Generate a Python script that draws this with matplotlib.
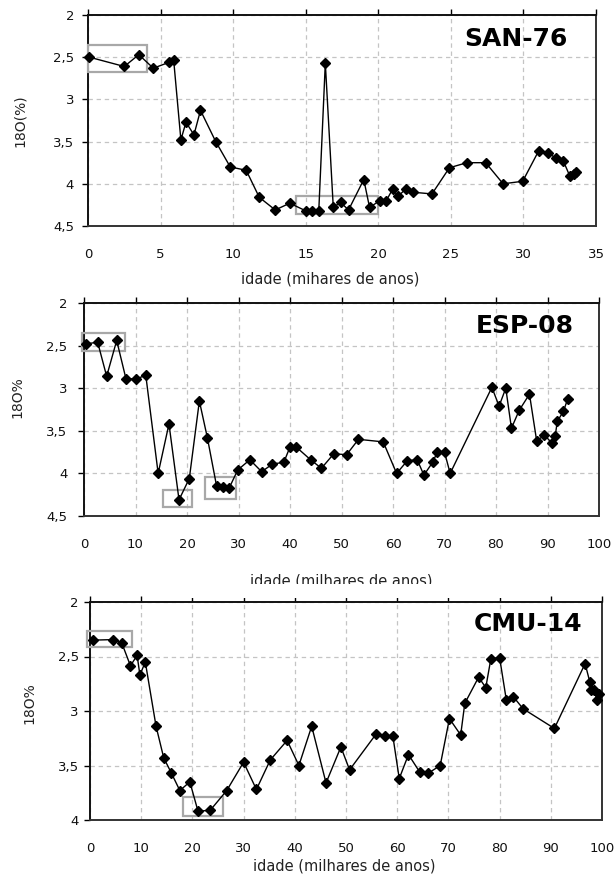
import matplotlib
matplotlib.use("Agg")
import matplotlib.pyplot as plt
from matplotlib.patches import Rectangle
from matplotlib.ticker import MultipleLocator, FuncFormatter

# ---------------- data ----------------
san_x = [0.1, 2.5, 3.5, 4.5, 5.6, 5.9, 6.4, 6.75, 7.3, 7.75, 8.8, 9.8, 10.9, 11.8,
         12.9, 13.9, 15.0, 15.45, 15.9, 16.35, 16.9, 17.4, 17.95, 19.0, 19.4, 20.1,
         20.55, 21.0, 21.35, 21.9, 22.4, 23.7, 24.9, 26.1, 27.4, 28.6, 29.95, 31.05,
         31.7, 32.25, 32.75, 33.2, 33.45, 33.65]
san_y = [2.50, 2.61, 2.47, 2.63, 2.56, 2.53, 3.48, 3.27, 3.42, 3.13, 3.50, 3.80, 3.84, 4.16,
         4.31, 4.23, 4.32, 4.32, 4.32, 2.57, 4.28, 4.22, 4.31, 3.95, 4.28, 4.20,
         4.20, 4.06, 4.15, 4.06, 4.10, 4.12, 3.81, 3.75, 3.75, 4.00, 3.97, 3.61,
         3.63, 3.70, 3.73, 3.91, 3.88, 3.86]
san_boxes = [(0.0, 4.05, 2.35, 2.67), (14.35, 19.95, 4.14, 4.36)]

esp_x = [0.4, 2.65, 4.4, 6.35, 8.15, 10.1, 12.0, 14.4, 16.5, 18.45, 20.45, 22.4, 23.95,
         25.75, 26.9, 28.2, 29.85, 32.2, 34.5, 36.6, 38.8, 40.0, 41.2, 44.0, 46.1, 48.5,
         51.0, 53.3, 58.1, 60.7, 62.8, 64.7, 66.0, 67.7, 68.6, 70.0, 71.1, 79.2, 80.6,
         81.9, 83.0, 84.5, 86.5, 87.9, 89.4, 90.8, 91.5, 91.9, 93.1, 93.9]
esp_y = [2.48, 2.46, 2.86, 2.44, 2.89, 2.89, 2.85, 4.00, 3.42, 4.31, 4.06, 3.15, 3.58,
         4.15, 4.16, 4.17, 3.96, 3.84, 3.98, 3.89, 3.87, 3.69, 3.69, 3.84, 3.94, 3.77,
         3.78, 3.60, 3.63, 4.00, 3.85, 3.84, 4.02, 3.87, 3.75, 3.75, 4.00, 2.99, 3.21,
         3.00, 3.47, 3.26, 3.07, 3.62, 3.55, 3.64, 3.56, 3.39, 3.27, 3.13]
esp_boxes = [(-0.3, 8.0, 2.35, 2.56), (15.3, 20.9, 4.19, 4.39), (23.5, 29.6, 4.04, 4.30)]

cmu_x = [0.5, 4.4, 6.2, 7.9, 9.2, 9.75, 10.8, 12.9, 14.4, 15.9, 17.55, 19.5, 21.1, 23.5,
         26.7, 30.0, 32.5, 35.2, 38.5, 40.8, 43.3, 46.1, 49.0, 50.7, 55.9, 57.65, 59.15,
         60.4, 62.2, 64.4, 66.1, 68.4, 70.2, 72.4, 73.2, 75.9, 77.3, 78.3, 80.0, 81.3,
         82.7, 84.6, 90.7, 96.7, 97.6, 97.9, 98.5, 99.0, 99.5]
cmu_y = [2.35, 2.345, 2.375, 2.585, 2.49, 2.67, 2.55, 3.14, 3.43, 3.57, 3.73, 3.65, 3.92,
         3.91, 3.73, 3.47, 3.72, 3.45, 3.27, 3.50, 3.14, 3.66, 3.33, 3.54, 3.21, 3.23,
         3.23, 3.62, 3.40, 3.56, 3.57, 3.50, 3.07, 3.22, 2.93, 2.69, 2.785, 2.52, 2.51,
         2.895, 2.87, 2.98, 3.16, 2.565, 2.73, 2.81, 2.81, 2.895, 2.84]
cmu_boxes = [(-0.5, 8.3, 2.27, 2.41), (18.2, 25.9, 3.79, 3.96)]

titles = ["SAN-76", "ESP-08", "CMU-14"]
ylabels = ["18O(%)", "18O%", "18O%"]
xlabels = ["idade (mihares de anos)", "idade (milhares de anos)", "idade (milhares de anos)"]

W, H = 616, 875
fig = plt.figure(figsize=(W / 100, H / 100), dpi=100)

def frac(left, right, top, bottom):
    return [left / W, 1 - bottom / H, (right - left) / W, (bottom - top) / H]

comma = FuncFormatter(lambda v, p: ("%g" % v).replace(".", ","))

panels = [
    dict(x=san_x, y=san_y, boxes=san_boxes, rect=frac(88, 596, 15, 226),
         xlim=(0, 35), xstep=5, ylim=(2, 4.5), title_pos=(0.843, 0.886),
         ylab_pos=(-0.12, 0.50), xlab_pos=(0.476, -0.215), ypad=6),
    dict(x=esp_x, y=esp_y, boxes=esp_boxes, rect=frac(84, 599, 303, 516),
         xlim=(0, 100), xstep=10, ylim=(2, 4.5), title_pos=(0.856, 0.892),
         ylab_pos=(-0.115, 0.56), xlab_pos=(0.50, -0.27), ypad=8),
    dict(x=cmu_x, y=cmu_y, boxes=cmu_boxes, rect=frac(90, 602, 602, 820),
         xlim=(0, 100), xstep=10, ylim=(2, 4.0), title_pos=(0.855, 0.899),
         ylab_pos=(-0.104, 0.537), xlab_pos=(0.496, -0.178), ypad=4),
]

for i, p in enumerate(panels):
    ax = fig.add_axes(p["rect"])
    ax.set_xlim(*p["xlim"])
    ax.set_ylim(p["ylim"][1], p["ylim"][0])
    ax.xaxis.set_major_locator(MultipleLocator(p["xstep"]))
    ax.yaxis.set_major_locator(MultipleLocator(0.5))
    ax.yaxis.set_major_formatter(comma)
    ax.grid(True, color="#c4c4c4", linestyle=(0, (3.5, 3)), linewidth=0.9)
    ax.set_axisbelow(True)
    ax.tick_params(axis="x", top=True, bottom=False, labeltop=False, labelbottom=True,
                   direction="out", length=4, width=1, pad=12, labelsize=9.5,
                   labelcolor="#111111")
    ax.tick_params(axis="y", left=True, direction="out", length=4, width=1,
                   pad=p["ypad"], labelsize=9.5, labelcolor="#111111")
    for s in ["left", "top"]:
        ax.spines[s].set_linewidth(1.4)
        ax.spines[s].set_color("#111111")
    for s in ["right", "bottom"]:
        ax.spines[s].set_linewidth(1.4)
        ax.spines[s].set_color("#333333")

    ax.plot(p["x"], p["y"], color="black", linewidth=1.0, marker="D",
            markersize=4.8, markerfacecolor="black", markeredgecolor="black",
            clip_on=False, zorder=4)
    for (x0, x1, y0, y1) in p["boxes"]:
        ax.add_patch(Rectangle((x0, y0), x1 - x0, y1 - y0, fill=False,
                               edgecolor="#a8a8a8", linewidth=1.6, clip_on=False,
                               zorder=3))

    ax.text(p["title_pos"][0], p["title_pos"][1], titles[i], transform=ax.transAxes,
            ha="center", va="center", fontsize=18, fontweight="bold",
            family="DejaVu Sans", color="black")
    ax.set_ylabel(ylabels[i], fontsize=10, color="#222222")
    ax.yaxis.set_label_coords(*p["ylab_pos"])
    ax.set_xlabel(xlabels[i], fontsize=10.5, color="#222222", va="top")
    ax.xaxis.set_label_coords(*p["xlab_pos"])

# white band that clips the lower part of the middle panel's x label
fig.patches.append(Rectangle((150 / W, 1 - 598 / H), 360 / W, 14 / H,
                             transform=fig.transFigure, facecolor="white",
                             edgecolor="none", zorder=10))

fig.savefig("out.png", dpi=100)
